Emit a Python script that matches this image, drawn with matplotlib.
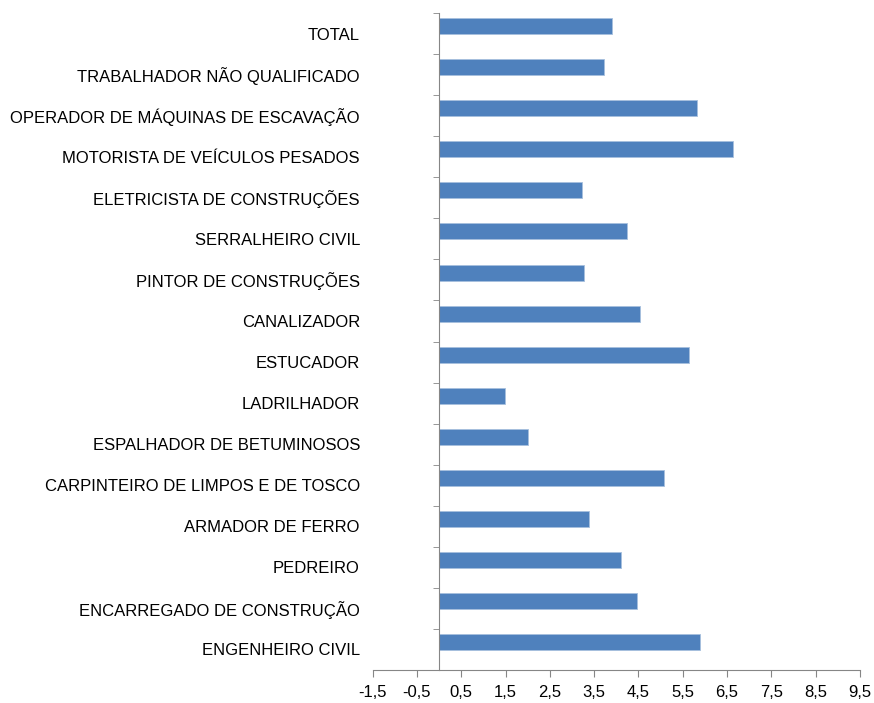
import numpy as np
import matplotlib.pyplot as plt

plt.rcParams['font.family'] = ['Liberation Sans', 'DejaVu Sans']

# categories from bottom to top
categories = [
	'ENGENHEIRO CIVIL',
	'ENCARREGADO DE CONSTRUÇÃO',
	'PEDREIRO',
	'ARMADOR DE FERRO',
	'CARPINTEIRO DE LIMPOS E DE TOSCO',
	'ESPALHADOR DE BETUMINOSOS',
	'LADRILHADOR',
	'ESTUCADOR',
	'CANALIZADOR',
	'PINTOR DE CONSTRUÇÕES',
	'SERRALHEIRO CIVIL',
	'ELETRICISTA DE CONSTRUÇÕES',
	'MOTORISTA DE VEÍCULOS PESADOS',
	'OPERADOR DE MÁQUINAS DE ESCAVAÇÃO',
	'TRABALHADOR NÃO QUALIFICADO',
	'TOTAL',
]

values = [5.89, 4.47, 4.10, 3.38, 5.07, 2.00, 1.48, 5.63,
		  4.54, 3.28, 4.25, 3.23, 6.64, 5.81, 3.72, 3.91]

x_ticks = [-1.5, -0.5, 0.5, 1.5, 2.5, 3.5, 4.5, 5.5, 6.5, 7.5, 8.5, 9.5]
x_tick_labels = [f'{t:.1f}'.replace('.', ',') for t in x_ticks]

axis_color = '#868686'
bar_color = '#4F81BD'

fig = plt.figure(figsize = (8.74, 7.03), dpi = 100)
ax = fig.add_axes([0.4264, 0.0469, 0.984 - 0.4264, 0.9815 - 0.0469])

y_pos = np.arange(len(categories))

# bars sit in the upper half of each category band (Excel style)
ax.barh(y_pos + 0.18, values, height = 0.39, color = bar_color,
		edgecolor = '#A7C0DE', linewidth = 0.6)

ax.set_xlim(x_ticks[0], x_ticks[-1])
ax.set_ylim(-0.5, len(categories) - 0.5)

ax.spines['top'].set_visible(False)
ax.spines['right'].set_visible(False)
ax.spines['left'].set_position(('data', 0))
ax.spines['left'].set_color(axis_color)
ax.spines['bottom'].set_color(axis_color)

ax.set_xticks(x_ticks)
ax.set_xticklabels(x_tick_labels, fontsize = 12)
ax.tick_params(axis = 'x', direction = 'out', length = 5, color = axis_color, pad = 6)

# category labels at band centres, boundary tick marks on the axis line
ax.set_yticks(y_pos)
ax.set_yticklabels(categories, fontsize = 12)
ax.tick_params(axis = 'y', which = 'major', length = 0, pad = 57)
ax.set_yticks(np.arange(-0.5, len(categories)), minor = True)
ax.tick_params(axis = 'y', which = 'minor', direction = 'out', length = 4, color = axis_color)

fig.savefig('out.png', dpi = 100)
